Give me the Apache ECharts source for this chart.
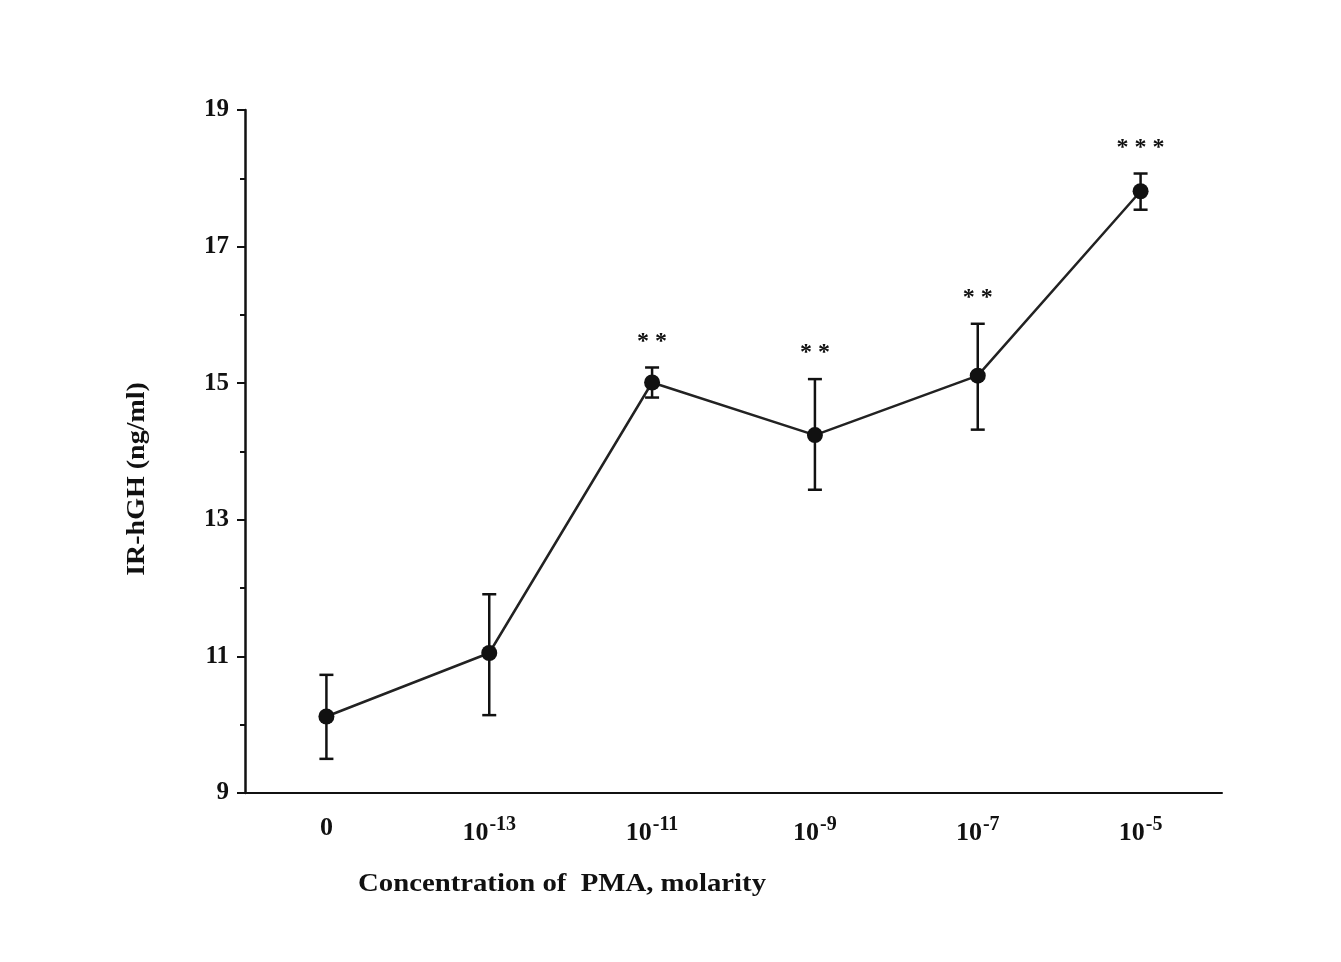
<!DOCTYPE html>
<html lang="en">
	<head>
		<meta charset="UTF-8">
		<title>IR-hGH vs PMA</title>
		<script src="https://cdn.jsdelivr.net/npm/echarts@6/dist/echarts.min.js"></script>
		<style type="text/css">
			html, body {
				margin: 0;
				padding: 0;
				background-color: #fff;
			}
			#chart {
				width: 1341px;
				height: 962px;
			}
		</style>
	</head>
	<body>
		<div id="chart"></div>
	</body>
	<script type="text/javascript">
		// 数据
		var categories = ['0', '10^-13', '10^-11', '10^-9', '10^-7', '10^-5'];
		var means = [10.12, 11.05, 15.01, 14.24, 15.11, 17.81];
		var upper = [10.73, 11.91, 15.23, 15.06, 15.87, 18.07];
		var lower = [9.50, 10.14, 14.79, 13.44, 14.32, 17.54];
		var stars = ['', '', '**', '**', '**', '***'];
		var yTicks = [9, 11, 13, 15, 17, 19];

		var font = '"Liberation Serif", "Times New Roman", serif';
		var chart = echarts.init(document.getElementById('chart'));

		var errData = categories.map(function (c, i) {
			return [i, lower[i], upper[i], stars[i]];
		});

		var option = {
			backgroundColor: '#fff',
			animation: false,
			grid: {
				left: 245,
				right: 119,
				top: 110,
				bottom: 169
			},
			xAxis: {
				type: 'category',
				data: categories,
				boundaryGap: true,
				axisLine: { lineStyle: { color: '#111', width: 2 } },
				axisTick: { alignWithLabel: true, length: 5, lineStyle: { color: '#333', width: 2 } },
				axisLabel: {
					margin: 22,
					formatter: function (v) {
						var p = v.split('^');
						if (p.length == 1) return '{b|' + v + '}';
						return '{b|' + p[0] + '}{s|' + p[1] + '}';
					},
					rich: {
						b: { fontFamily: font, fontWeight: 'bold', fontSize: 26, color: '#111' },
						s: { fontFamily: font, fontWeight: 'bold', fontSize: 20, color: '#111', padding: [0, 0, 16, 1] }
					}
				},
				splitLine: { show: false }
			},
			yAxis: {
				type: 'value',
				min: 9,
				max: 19,
				interval: 2,
				axisLine: { show: true, lineStyle: { color: '#111', width: 2.5 } },
				axisTick: { show: true, length: 8, lineStyle: { color: '#111', width: 2 } },
				minorTick: { show: true, splitNumber: 2, length: 5, lineStyle: { color: '#111', width: 2 } },
				axisLabel: {
					margin: 16,
					fontFamily: font,
					fontWeight: 'bold',
					fontSize: 25,
					color: '#111',
					formatter: function (v) {
						return yTicks.indexOf(v) >= 0 ? String(v) : '';
					}
				},
				splitLine: { show: false }
			},
			graphic: [
				{
					type: 'text',
					x: 138,
					y: 479,
					rotation: Math.PI / 2,
					scaleX: 1.12,
					style: {
						text: 'IR-hGH (ng/ml)',
						fontFamily: font,
						fontWeight: 'bold',
						fontSize: 25,
						fill: '#111',
						align: 'center',
						verticalAlign: 'middle'
					}
				},
				{
					type: 'text',
					x: 562,
					y: 885,
					scaleX: 1.15,
					style: {
						text: 'Concentration of  PMA, molarity',
						fontFamily: font,
						fontWeight: 'bold',
						fontSize: 25,
						fill: '#111',
						align: 'center',
						verticalAlign: 'middle'
					}
				}
			],
			series: [
				{
					type: 'line',
					data: means,
					symbol: 'circle',
					symbolSize: 16,
					itemStyle: { color: '#111' },
					lineStyle: { color: '#222', width: 2.5 },
					z: 3
				},
				{
					type: 'custom',
					data: errData,
					z: 2,
					renderItem: function (params, api) {
						var x = api.value(0);
						var lo = api.coord([x, api.value(1)]);
						var hi = api.coord([x, api.value(2)]);
						var w = 7;
						var st = { stroke: '#111', lineWidth: 2.5 };
						var kids = [
							{ type: 'line', shape: { x1: lo[0], y1: lo[1], x2: hi[0], y2: hi[1] }, style: st },
							{ type: 'line', shape: { x1: hi[0] - w, y1: hi[1], x2: hi[0] + w, y2: hi[1] }, style: st },
							{ type: 'line', shape: { x1: lo[0] - w, y1: lo[1], x2: lo[0] + w, y2: lo[1] }, style: st }
						];
						var s = api.value(3);
						if (s) {
							kids.push({
								type: 'text',
								x: hi[0],
								y: hi[1] - 26,
								style: {
									text: s.split('').join(' '),
									fontFamily: font,
									fontWeight: 'bold',
									fontSize: 24,
									fill: '#111',
									align: 'center',
									verticalAlign: 'middle'
								}
							});
						}
						return { type: 'group', children: kids };
					}
				}
			]
		};
		chart.setOption(option);
	</script>
</html>
